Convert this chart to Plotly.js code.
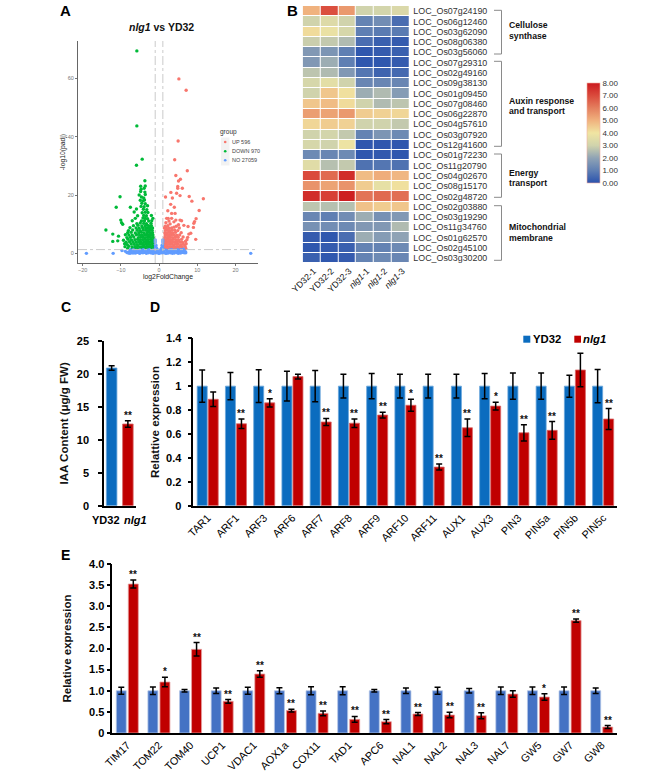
<!DOCTYPE html>
<html>
<head>
<meta charset="utf-8">
<script src="https://cdn.plot.ly/plotly-3.0.1.min.js"></script>
<style>html,body{margin:0;padding:0;background:#fff}#chart{width:669px;height:776px}</style>
</head>
<body>
<div id="chart"></div>
<script>
// ---------- Panel A: volcano points ----------
var downPoints = [[-5.8,69.4],[-5.8,43.7],[-4.4,32.3],[-5.9,30.2],[-3.7,24.9],[-10.2,19.4],[-11.2,15.8],[-7.5,15.8],[-13.9,8],[-12.1,6.6],[-12.1,4.1],[-10.6,5.9],[-10.8,4.3],[-10,11.4],[-9.8,10.5],[-9.5,10],
[-1.3,1.6],[-1.8,1.6],[-2.4,1.7],[-2.9,1.5],[-3.5,1.6],[-4,1.7],[-4.6,1.5],[-5.1,1.6],[-5.8,1.7],[-6.4,1.6],[-7.1,1.5],[-8.2,1.7],
[-1.2,2.3],[-1.6,2.4],[-2.1,2.3],[-2.7,2.2],[-3.2,2.4],[-3.8,2.3],[-4.3,2.3],[-4.9,2.2],[-5.5,2.4],[-6.2,2.3],[-7,2.2],[-7.9,2.4],[-8.9,2.3],
[-1.3,3.1],[-1.7,3.2],[-2.3,3],[-2.8,3.1],[-3.3,3.2],[-3.9,3],[-4.4,3.1],[-5,3.2],[-5.7,3],[-6.5,3.1],[-7.3,3.2],[-8.3,3],[-9,3.3],
[-1.4,3.9],[-1.9,4],[-2.4,3.8],[-2.9,3.9],[-3.5,4],[-4,3.8],[-4.7,3.9],[-5.3,4],[-6,3.8],[-6.8,3.9],[-7.7,4],[-8.6,3.8],
[-1.3,4.7],[-1.8,4.6],[-2.2,4.8],[-2.8,4.7],[-3.2,4.6],[-3.8,4.8],[-4.3,4.7],[-5,4.6],[-5.6,4.8],[-6.3,4.7],[-7.2,4.6],[-8.1,4.8],[-9.3,4.5],
[-1.5,5.5],[-2,5.4],[-2.5,5.6],[-3,5.5],[-3.6,5.4],[-4.2,5.6],[-4.8,5.5],[-5.4,5.4],[-6.6,5.6],[-7.5,5.5],[-8.4,5.4],
[-1.6,6.3],[-2.1,6.4],[-2.7,6.2],[-3.2,6.3],[-3.7,6.4],[-4.4,6.2],[-5.1,6.3],[-5.9,6.4],[-7,6.2],[-7.9,6.3],[-8.8,6.4],
[-1.7,7.1],[-2.2,7],[-2.6,7.2],[-3.1,7.1],[-3.9,7],[-4.6,7.2],[-5.3,7.1],[-6.2,7],[-7.3,7.2],[-8.2,7.1],
[-1.8,7.9],[-2.3,8],[-2.9,7.8],[-3.4,7.9],[-4.1,8],[-4.9,7.8],[-5.7,7.9],[-6.9,8],[-8,7.8],
[-1.7,8.7],[-2.4,8.8],[-2.8,8.6],[-3.5,8.7],[-4.3,8.8],[-5.2,8.6],[-6,8.7],[-7.6,8.8],
[-2,9.5],[-2.6,9.4],[-3,9.6],[-3.6,9.5],[-4.5,9.4],[-5.5,9.6],[-6.7,9.5],
[-2.1,10.3],[-3.3,10.2],[-4,10.3],[-4.9,10.4],[-5.8,10.2],
[-1.9,11.2],[-2.7,11.1],[-3.8,11.2],[-4.6,11.1],[-7,11.2],
[-1.6,12],[-3,11.9],[-3.6,12],[-4.2,12.1],[-6.2,12],
[-2,13],[-3.3,12.9],[-4,13],[-5.6,12.9],
[-2.9,14],[-3.6,14.1],[-4.4,13.9],[-6.5,14.2],
[-3.2,15],[-4.1,15.1],[-5.9,15.2],
[-3.9,16],[-4.7,16.1],[-3,16.3],[-3.6,17],[-4.5,17.2],[-4.2,18],[-4.9,18.2],[-3.8,18.3],
[-4,19],[-4.6,19.3],[-5.2,20],[-3.6,20.2],[-3.7,21],[-4.8,21.2],[-4.7,22],[-3.9,22.3],[-4.8,23],[-3.6,23.1]];

var upPoints = [[5.2,59.8],[7.1,55.9],[5,38.5],[4.1,32.1],[7.4,28.3],[4.4,26.7],[5.6,25.4],[5.1,24.8],[4.9,22.9],[4.9,22.3],[6.1,22.3],[3.1,20.9],[4.6,20.6],[1.7,19.3],[3.5,19],[5.5,19.8],[7.9,19.5],[8.6,17.9],[11.6,18.7],[3.05,16.8],[4,15.8],[2.3,14.6],[10.5,14.7],[3.3,13.7],[4.2,13.7],[9.7,11.9],[9.3,10.9],[9.1,10.3],[9,8.9],[8.3,6.9],[7.8,6.6],[9.6,4.8],[5.9,11.2],[5.5,11.4],[4.4,11.4],[2.4,12],[2,12],
[3.3,12],[2.6,11.1],[3.9,10.8],[1.8,10.5],[2.9,10.1],[6.5,9.6],[7.6,9.2],[5.1,9.8],
[1.3,1.6],[1.8,1.7],[2.3,1.5],[2.8,1.6],[3.4,1.7],[3.9,1.5],[4.5,1.6],[5.1,1.7],[5.7,1.5],[6.3,1.6],[7,1.7],
[1.2,2.4],[1.6,2.3],[2.1,2.4],[2.6,2.2],[3.1,2.3],[3.7,2.4],[4.2,2.2],[4.8,2.3],[5.4,2.4],[6,2.3],[6.8,2.4],
[1.3,3.1],[1.7,3.2],[2.2,3],[2.8,3.1],[3.3,3.2],[3.9,3],[4.5,3.1],[5,3.2],[5.7,3],[6.4,3.1],[7.1,3.3],
[1.4,3.9],[1.9,4],[2.4,3.8],[2.9,3.9],[3.5,4],[4.1,3.8],[4.7,3.9],[5.4,4],[6.1,3.8],[6.9,4.1],
[1.3,4.7],[1.8,4.6],[2.3,4.8],[2.7,4.7],[3.2,4.6],[3.8,4.8],[4.4,4.7],[5.1,4.6],[5.9,4.8],[7.3,4.7],
[1.5,5.5],[2,5.4],[2.5,5.6],[3,5.5],[3.6,5.4],[4.3,5.6],[5,5.5],[6.3,5.6],[7.5,5.5],
[1.6,6.3],[2.1,6.4],[2.6,6.2],[3.2,6.3],[3.8,6.4],[4.6,6.2],[5.4,6.3],
[1.5,7.1],[2,7],[2.5,7.2],[3,7.1],[3.6,7],[4.3,7.2],[5.8,7.1],
[1.7,7.9],[2.2,8],[2.8,7.8],[3.4,7.9],[4.1,8],[4.9,7.8],
[1.4,8.7],[1.9,8.8],[2.6,8.6],[3.3,8.7],[3.9,9],[5.3,8.7],[1.6,9.3],[2.3,9.5],[4.5,9.3]];

var noPoints = [[-19,0],[-12,0],[24,0],[-9.7,1],[6.9,0.6],[7,0.2],[-8.4,0.3],[-7.8,0.6],[-7.3,0.2],[-6.9,0.8],[-6.5,0.3],[-6,1],[-5.6,0.4],[-5.2,0.9],[-4.8,0.2],[-4.4,0.7],[-4,1.1],[-3.6,0.3],[-3.2,0.8],[-2.8,0.2],[-2.4,1],[-2,0.5],[-1.6,1.1],[-1.2,0.3],
[-8,0.1],[-7,0.9],[-6.2,0.1],[-5.4,0.6],[-4.6,1],[-3.8,0.5],[-3,1.1],[-2.2,0.2],[-1.4,0.8],[-0.9,0.1],[-0.5,0.4],[-0.2,0.1],[0,0],[0.2,0.1],[0.5,0.3],[0.9,0.1],
[1.2,0.8],[1.5,0.2],[1.9,1.1],[2.2,0.5],[2.6,0.9],[3,0.2],[3.4,1],[3.8,0.4],[4.2,1.1],[4.6,0.3],[5,0.9],[5.4,0.5],[5.8,1.1],[6.2,0.4],[6.5,0.9],[1.4,1.2],[2.4,0.1],[3.2,0.7],[4,0.1],[4.8,0.6],[5.6,0.1],[6.4,1.4],
[-1,1.5],[-0.9,2.2],[-0.95,3],[-1,3.9],[-0.7,1],[-0.7,1.9],[-0.8,2.7],[-0.4,0.8],[-0.5,1.4],[1,1.5],[0.9,2.2],[0.95,3],[1,3.9],[0.7,1],[0.7,1.9],[0.8,2.7],[0.4,0.8],[0.5,1.4],[1,4.6],[-1,4.6],
[-7.5,1.2],[-6.7,1.3],[-5.9,0.3],[-5,1.2],[-4.2,0.2],[-3.4,0.6],[-2.6,0.6],[-1.8,0.1],[2,0.1],[2.8,1.2],[3.6,0.7],[4.4,0.7],[5.2,0.2],[6,0.8],
[-8.8,0.7],[-7.6,0],[-6.8,0.1],[-5.1,0],[-3.3,0],[-1.5,0],[1.8,0],[3.5,0],[5,0],[5.9,0.3],[6.6,0.2],[-4.1,1.3],[-2.5,1.3],[4.9,1.3],[3.3,1.3],[5.7,1.3]];

var groupLabels = ['UP 596','DOWN 970','NO 27059'];

// ---------- Panel B: heatmap ----------
var geneNames = ['LOC_Os07g24190','LOC_Os06g12460','LOC_Os03g62090','LOC_Os08g06380','LOC_Os03g56060','LOC_Os07g29310','LOC_Os02g49160','LOC_Os09g38130','LOC_Os01g09450','LOC_Os07g08460','LOC_Os06g22870','LOC_Os04g57610','LOC_Os03g07920','LOC_Os12g41600','LOC_Os01g72230','LOC_Os11g20790','LOC_Os04g02670','LOC_Os08g15170','LOC_Os02g48720','LOC_Os02g03880','LOC_Os03g19290','LOC_Os11g34760','LOC_Os01g62570','LOC_Os02g45100','LOC_Os03g30200'];
var sampleNames = ['YD32-1','YD32-2','YD32-3','<i>nlg1</i>-1','<i>nlg1</i>-2','<i>nlg1</i>-3'];
var heatValues = [
[5.0,6.9,5.5,3.0,3.1,3.3],[3.0,3.4,3.0,1.1,1.4,0.6],[4.2,3.8,3.2,1.0,0.9,0.9],[2.9,2.8,2.5,0.6,0.3,0.2],[1.7,1.6,1.0,0.1,0.2,0.3],
[1.7,2.2,1.0,0.1,0.1,0.2],[2.7,2.5,1.7,0.8,0.4,0.5],[3.2,3.6,3.0,1.2,1.2,1.2],[3.0,4.6,4.1,2.2,2.5,1.8],[4.6,4.8,4.2,3.0,2.5,2.7],
[5.4,5.3,5.5,4.5,4.4,4.3],[4.3,4.5,4.4,3.0,3.0,2.8],[3.0,3.1,2.8,1.1,1.6,1.3],[3.2,3.0,3.9,0.1,0.1,0.1],[1.3,1.2,1.3,0.1,0.15,0.1],
[3.5,2.6,2.8,0.7,0.8,0.7],[7.0,6.4,7.6,4.8,5.1,4.9],[5.6,5.3,5.6,4.5,3.7,4.1],[7.6,7.2,7.9,6.2,6.4,6.3],[2.7,2.6,2.6,4.7,4.5,4.6],
[1.2,1.0,1.4,2.2,1.5,1.7],[1.5,1.4,1.3,1.7,1.7,2.5],[0.2,0.1,0.6,2.2,1.8,2.0],[0.1,0.2,0.3,1.1,1.1,1.3],[0.3,0.1,0.2,1.1,1.3,1.2]];
var heatColors = [[0,'#2a52ad'],[0.125,'#5f7fb3'],[0.25,'#8fa3b5'],[0.375,'#d0d3ac'],[0.5,'#f0e5a2'],[0.625,'#f0b27e'],[0.75,'#e47f5e'],[0.875,'#da4a3c'],[1,'#cb1a1e']];
var groupNames = [['Cellulose','synthase'],['Auxin response','and transport'],['Energy','transport'],['Mitochondrial','membrane']];

// ---------- Panel C ----------
var iaaNames = ['YD32','<i>nlg1</i>'];
var iaaValues = [20.9,12.4];
var iaaErrors = [0.35,0.5];

// ---------- Panel D ----------
var dGenes = ['TAR1','ARF1','ARF3','ARF6','ARF7','ARF8','ARF9','ARF10','ARF11','AUX1','AUX3','PIN3','PIN5a','PIN5b','PIN5c'];
var dYD32 = [1,1,1,1,1,1,1,1,1,1,1,1,1,1,1];
var dYD32Err = [0.135,0.113,0.137,0.125,0.13,0.1,0.106,0.1,0.1,0.1,0.105,0.11,0.11,0.092,0.14];
var dNlg1 = [0.89,0.685,0.86,1.08,0.7,0.69,0.758,0.84,0.323,0.652,0.833,0.61,0.63,1.135,0.725];
var dNlg1Err = [0.06,0.04,0.035,0.02,0.03,0.035,0.024,0.05,0.025,0.073,0.033,0.068,0.074,0.14,0.087];
var dStars = ['','**','*','','**','**','**','*','**','**','*','**','**','','**'];
var dTickVals = [0,0.2,0.4,0.6,0.8,1,1.2,1.4];
var dTickText = ['0','0.2','0.4','0.6','0.8','1','1.2','1.4'];

// ---------- Panel E ----------
var eGenes = ['TIM17','TOM22','TOM40','UCP1','VDAC1','AOX1a','COX11','TAD1','APC6','NAL1','NAL2','NAL3','NAL7','GW5','GW7','GW8'];
var eYD32 = [1,1,1,1,1,1,1,1,1,1,1,1,1,1,1,1];
var eYD32Err = [0.08,0.087,0.03,0.067,0.08,0.07,0.095,0.095,0.03,0.067,0.083,0.055,0.09,0.09,0.09,0.067];
var eNlg1 = [3.526,1.207,1.98,0.75,1.396,0.53,0.465,0.323,0.268,0.45,0.426,0.41,0.923,0.852,2.66,0.142];
var eNlg1Err = [0.095,0.11,0.16,0.043,0.075,0.035,0.055,0.07,0.05,0.035,0.063,0.07,0.075,0.075,0.04,0.035];
var eStars = ['**','*','**','**','**','**','**','**','**','**','**','**','','*','**','**'];
var eTickVals = [0,0.5,1,1.5,2,2.5,3,3.5,4];
var eTickText = ['0','0.5','1.0','1.5','2.0','2.5','3.0','3.5','4.0'];

// ---------- Colours ----------
var upColor='#F8766D', downColor='#00BA38', noColor='#619CFF';
var blueD='#0b6cbf', blueE='#4472c4', red='#c00000';
var FONT='"Liberation Sans", Arial, sans-serif';

// ---------- Geometry helpers ----------
var W=669,H=776;
function dx(a,b){return [a/W,b/W];}
function dy(top,bottom){return [1-bottom/H,1-top/H];}
function px(x){return x/W;}
function py(y){return 1-y/H;}

function indexes(a){return a.map(function(_,i){return i;});}
function xs(p){return p.map(function(v){return v[0];});}
function ys(p){return p.map(function(v){return v[1];});}

function scatterTrace(pts,name,color){
  return {type:'scatter',mode:'markers',x:xs(pts),y:ys(pts),name:name,xaxis:'x',yaxis:'y',showlegend:false,
    marker:{color:color,size:3.4,line:{width:0}},cliponaxis:false};
}
function barTrace(vals,errs,name,color,edge,ax,ay,width,offset){
  var t={type:'bar',x:indexes(vals),y:vals,name:name,xaxis:ax,yaxis:ay,showlegend:false,
    marker:{color:color,line:{color:edge,width:0.8}},
    error_y:{type:'data',array:errs,visible:true,color:'#000',thickness:1.5,width:3}};
  if(width){t.width=width;t.offset=offset;}
  return t;
}

var data=[
  scatterTrace(downPoints,groupLabels[1],downColor),
  scatterTrace(upPoints,groupLabels[0],upColor),
  scatterTrace(noPoints,groupLabels[2],noColor),
  {type:'heatmap',z:heatValues,x:indexes(sampleNames),y:geneNames,xaxis:'x2',yaxis:'y2',xgap:1,ygap:1,zmin:0,zmax:8,
    colorscale:heatColors,showscale:true,
    colorbar:{x:586.7/W,xanchor:'left',xpad:0,ypad:0,y:py(133),yanchor:'middle',lenmode:'pixels',len:100,thicknessmode:'pixels',thickness:12.5,
      tickvals:[0,1,2,3,4,5,6,7,8],ticktext:['0.00','1.00','2.00','3.00','4.00','5.00','6.00','7.00','8.00'],ticks:'',ticklen:0,
      outlinewidth:0.6,outlinecolor:'#f0b0a0',tickfont:{family:FONT,size:8,color:'#333'}}},
  {type:'bar',x:indexes(iaaValues),y:iaaValues,name:'IAA',xaxis:'x3',yaxis:'y3',showlegend:false,width:0.65,
    marker:{color:[blueD,red],line:{color:['#6aa6dc','#d96a6a'],width:0.8}},
    error_y:{type:'data',array:iaaErrors,visible:true,color:'#000',thickness:1.5,width:3}},
  barTrace(dYD32,dYD32Err,'YD32',blueD,'#6aa6dc','x4','y4'),
  barTrace(dNlg1,dNlg1Err,'nlg1',red,'#d96a6a','x4','y4'),
  barTrace(eYD32,eYD32Err,'YD32',blueE,'#b4c7e7','x5','y5',0.316,-0.348),
  barTrace(eNlg1,eNlg1Err,'nlg1',red,'#e6a0a0','x5','y5',0.316,0.032)
];

// ---------- Axes ----------
function barY(domain,range,vals,text,title,standoff,anchor,labelGap){
  return {domain:domain,range:range,anchor:anchor,tickvals:vals,ticktext:text,ticks:'outside',ticklen:4,tickwidth:1.5,tickcolor:'#000',
    showline:true,linecolor:'#000',linewidth:1.5,showgrid:false,zeroline:false,fixedrange:true,ticklabelstandoff:labelGap,
    tickfont:{family:FONT,size:11,color:'#000',weight:'bold'},
    title:{text:title,standoff:standoff,font:{family:FONT,size:11.5,color:'#111',weight:'bold'}}};
}
function barX(domain,range,vals,text,angle,size,anchor){
  return {domain:domain,range:range,anchor:anchor,tickvals:vals,ticktext:text,tickangle:angle,ticks:'',ticklen:0,
    showline:true,linecolor:'#000',linewidth:1.5,showgrid:false,zeroline:false,fixedrange:true,
    tickfont:{family:FONT,size:size,color:'#000'}};
}

var layout={
  width:W,height:H,margin:{l:0,r:0,t:0,b:0},autosize:false,paper_bgcolor:'#fff',plot_bgcolor:'rgba(0,0,0,0)',showlegend:false,
  font:{family:FONT},barmode:'group',bargap:0.22,bargroupgap:0.09,
  xaxis:{domain:dx(78,258),range:[-21.2,25.9],anchor:'y',tickvals:[-20,-10,0,10,20],ticks:'outside',ticklen:1.5,tickwidth:0.8,tickcolor:'#777',
    showline:true,linecolor:'#666',linewidth:1,showgrid:false,zeroline:false,tickfont:{family:FONT,size:5.5,color:'#777'},
    title:{text:'log2FoldChange',standoff:0,font:{family:FONT,size:6.8,color:'#222'}}},
  yaxis:{domain:dy(41,263),range:[-3.3,72.8],anchor:'x',tickvals:[0,20,40,60],ticks:'outside',ticklen:2,tickwidth:0.8,tickcolor:'#777',
    showline:true,linecolor:'#666',linewidth:1,showgrid:false,zeroline:false,tickfont:{family:FONT,size:5.5,color:'#777'},
    title:{text:'-log10(padj)',standoff:1,font:{family:FONT,size:6.8,color:'#222'}}},
  xaxis2:{domain:dx(302.7,409.3),anchor:'y2',range:[-0.5,5.5],tickvals:indexes(sampleNames),ticktext:sampleNames,tickangle:-45,ticks:'',ticklabelshift:2,
    showline:false,showgrid:false,zeroline:false,tickfont:{family:FONT,size:8.8,color:'#111'}},
  yaxis2:{domain:dy(6,263.3),anchor:'x2',type:'category',autorange:'reversed',side:'right',ticks:'',ticklen:0,ticklabelstandoff:3,
    showline:false,showgrid:false,zeroline:false,tickfont:{family:FONT,size:8.9,color:'#333'},dtick:1},
  xaxis3:barX(dx(104,136),[-0.47,1.5],[],[],0,11,'y3'),
  yaxis3:barY(dy(341,505.7),[0,25],[0,5,10,15,20,25],['0','5','10','15','20','25'],'IAA Content (μg/g FW)',6,'x3',7),
  xaxis4:barX(dx(193.3,616.7),[-0.51,14.48],indexes(dGenes),dGenes,-45,10.7,'y4'),
  yaxis4:barY(dy(338.3,505.7),[0,1.4],dTickVals,dTickText,'Relattive expression',4,'x4',4),
  xaxis5:barX(dx(112.3,616.7),[-0.474,15.474],indexes(eGenes),eGenes,-45,10.7,'y5'),
  yaxis5:barY(dy(564,733),[0,4],eTickVals,eTickText,'Relative expression',15,'x5',4.5)
};

// ---------- Shapes: threshold lines, brackets, legend keys ----------
var grey='#c4c4c4';
var shapes=[
  {type:'line',xref:'x',yref:'paper',x0:-1,x1:-1,y0:py(263),y1:py(41),line:{color:grey,width:0.9,dash:'dashdot'}},
  {type:'line',xref:'x',yref:'paper',x0:1,x1:1,y0:py(263),y1:py(41),line:{color:grey,width:0.9,dash:'dashdot'}},
  {type:'line',xref:'paper',yref:'y',x0:px(78),x1:px(258),y0:1.3,y1:1.3,line:{color:grey,width:0.9,dash:'dashdot'}},
  {type:'rect',xref:'paper',yref:'paper',x0:px(221),x1:px(229.5),y0:py(165.5),y1:py(137.5),fillcolor:'#f2f2f2',line:{width:0}}
];
[[142,upColor],[151.3,downColor],[160.3,noColor]].forEach(function(k){
  shapes.push({type:'circle',xref:'paper',yref:'paper',x0:px(223.9),x1:px(226.5),y0:py(k[0]+1.3),y1:py(k[0]-1.3),fillcolor:k[1],line:{width:0}});
});
[[10.3,54],[61.3,146.3],[154,197.3],[205.7,260.3]].forEach(function(b){
  shapes.push({type:'path',xref:'paper',yref:'paper',
    path:'M'+px(494)+','+py(b[0])+'L'+px(501.5)+','+py(b[0])+'L'+px(501.5)+','+py(b[1])+'L'+px(494)+','+py(b[1]),
    line:{color:'#8a8a8a',width:1}});
});
shapes.push({type:'rect',xref:'paper',yref:'paper',x0:px(523.3),x1:px(530.3),y0:py(342.7),y1:py(335.7),fillcolor:blueD,line:{width:0}});
shapes.push({type:'rect',xref:'paper',yref:'paper',x0:px(574.3),x1:px(581),y0:py(342.7),y1:py(335.7),fillcolor:red,line:{width:0}});
layout.shapes=shapes;

// ---------- Annotations ----------
function txt(x,y,t,size,opts){
  opts=opts||{};
  return {xref:'paper',yref:'paper',x:px(x),y:py(y),text:t,showarrow:false,xanchor:opts.anchor||'left',yanchor:'middle',align:'left',
    font:{family:FONT,size:size,color:opts.color||'#000',weight:opts.weight||'normal'},borderpad:0,borderwidth:0};
}
var ann=[
  txt(60,10.5,'A',15,{weight:'bold'}),txt(287,10.5,'B',15,{weight:'bold'}),
  txt(61,307,'C',14,{weight:'bold'}),txt(150,307,'D',14,{weight:'bold'}),txt(61,555,'E',14,{weight:'bold'}),
  txt(161,27.5,'<i>nlg1</i> vs YD32',10.5,{weight:'bold',anchor:'center',color:'#111'}),
  txt(220,132,'group',6.5,{color:'#333'}),
  txt(232,142,groupLabels[0],5.5,{color:'#444'}),txt(232,151.3,groupLabels[1],5.5,{color:'#444'}),txt(232,160.3,groupLabels[2],5.5,{color:'#444'}),
  txt(533,339,'YD32',11.3,{weight:'bold'}),txt(583.3,339,'<i>nlg1</i>',11.3,{weight:'bold'}),
  txt(105.5,520,iaaNames[0],11,{weight:'bold',anchor:'center'}),txt(135.5,520,iaaNames[1],11,{weight:'bold',anchor:'center'})
];
var groupY=[[25.3,36],[101,111.5],[172.5,183],[227,237.5]];
groupNames.forEach(function(g,i){
  ann.push(txt(509,groupY[i][0],g[0],8.7,{weight:'bold',color:'#111'}));
  ann.push(txt(509,groupY[i][1],g[1],8.7,{weight:'bold',color:'#111'}));
});
function stars(list,vals,errs,xr,yr,off){
  list.forEach(function(s,i){
    if(!s)return;
    ann.push({xref:xr,yref:yr,x:i+off,y:vals[i]+errs[i],text:s,showarrow:false,xanchor:'center',yanchor:'bottom',yshift:-2,
      font:{family:FONT,size:10,color:'#111',weight:'bold'}});
  });
}
stars(['','**'],iaaValues,iaaErrors,'x3','y3',0);
stars(dStars,dNlg1,dNlg1Err,'x4','y4',0.195);
stars(eStars,eNlg1,eNlg1Err,'x5','y5',0.19);
layout.annotations=ann;

Plotly.newPlot('chart',data,layout,{displayModeBar:false,responsive:false});
</script>
</body>
</html>
